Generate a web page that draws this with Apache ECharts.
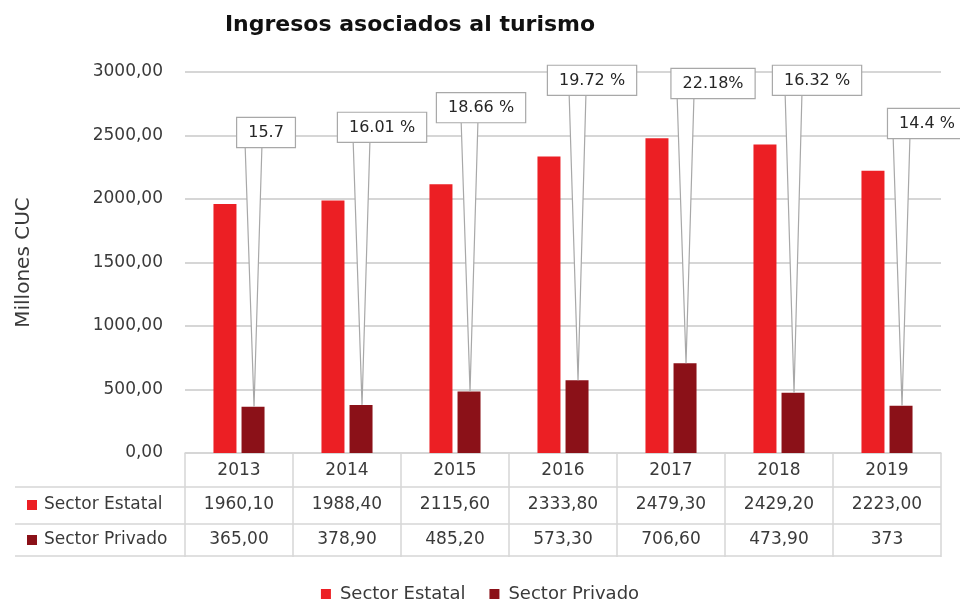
<!DOCTYPE html>
<html>
<head>
<meta charset="utf-8">
<script src="https://cdn.jsdelivr.net/npm/echarts@6/dist/echarts.min.js"></script>
<style>html,body{margin:0;padding:0;background:#fff}#c{width:960px;height:601px}</style>
</head>
<body>
<div id="c"></div>
<script>
// ---- data ----
const years = ['2013', '2014', '2015', '2016', '2017', '2018', '2019'];
const estatal = [1960.10, 1988.40, 2115.60, 2333.80, 2479.30, 2429.20, 2223.00];
const privado = [365.00, 378.90, 485.20, 573.30, 706.60, 473.90, 373];
const estatalText = ['1960,10', '1988,40', '2115,60', '2333,80', '2479,30', '2429,20', '2223,00'];
const privadoText = ['365,00', '378,90', '485,20', '573,30', '706,60', '473,90', '373'];
const pctLabels = ['15.7', '16.01 %', '18.66 %', '19.72 %', '22.18%', '16.32 %', '14.4 %'];
const yTicks = [0, 500, 1000, 1500, 2000, 2500, 3000];

// ---- layout (callout placement) ----
const calloutLevel = [2410, 2450, 2605, 2820, 2795, 2820, 2480];
const calloutDx = [13, 21, 12, 15, 28, 24, 26];

const FONT = 'DejaVu Sans';
const RED = '#ec1f24';
const DARK = '#8b1118';
const TXT = '#3a3a3a';
const LINE = '#d6d6d6';
const GL = 185, GR = 19, GT = 72, GB = 148;

const chart = echarts.init(document.getElementById('c'));

const tableLines = [487, 524, 556].map(y => ({
  type: 'line', shape: { x1: 15, y1: y, x2: 960 - GR, y2: y },
  style: { stroke: LINE, lineWidth: 1.5 }, silent: true
}));

const rowHeaders = [
  { color: RED, text: 'Sector Estatal', y: 505 },
  { color: DARK, text: 'Sector Privado', y: 540 }
];
const headerGraphics = [];
rowHeaders.forEach(r => {
  headerGraphics.push({ type: 'rect', shape: { x: 27, y: r.y - 5, width: 10, height: 10 }, style: { fill: r.color }, silent: true });
  headerGraphics.push({ type: 'text', x: 44, y: r.y, style: { text: r.text, font: '17px "' + FONT + '"', fill: TXT, verticalAlign: 'middle', align: 'left' }, silent: true });
});

const option = {
  animation: false,
  title: {
    text: 'Ingresos asociados al turismo',
    left: 405, top: 9, textAlign: 'center',
    textStyle: { fontFamily: FONT, fontSize: 22, fontWeight: 'bold', color: '#111' }
  },
  legend: {
    top: 580, left: 'center',
    icon: 'rect', itemWidth: 10, itemHeight: 10, itemGap: 24,
    textStyle: { fontFamily: FONT, fontSize: 18, color: TXT, padding: [0, 0, 0, 4] },
    data: ['Sector Estatal', 'Sector Privado']
  },
  grid: { left: GL, right: GR, top: GT, bottom: GB },
  xAxis: [
    {
      type: 'category', data: years, position: 'bottom',
      axisLine: { show: true, lineStyle: { color: LINE, width: 1.5 } },
      axisTick: { show: true, length: 104, alignWithLabel: false, lineStyle: { color: LINE, width: 1.5 } },
      axisLabel: { fontFamily: FONT, fontSize: 17, color: TXT, margin: 9 }
    },
    {
      type: 'category', data: estatalText, position: 'bottom', offset: 34,
      axisLine: { show: false }, axisTick: { show: false },
      axisLabel: { fontFamily: FONT, fontSize: 17, color: TXT, margin: 9 }
    },
    {
      type: 'category', data: privadoText, position: 'bottom', offset: 69,
      axisLine: { show: false }, axisTick: { show: false },
      axisLabel: { fontFamily: FONT, fontSize: 17, color: TXT, margin: 9 }
    }
  ],
  yAxis: {
    type: 'value', min: yTicks[0], max: yTicks[yTicks.length - 1], interval: 500,
    name: 'Millones CUC', nameLocation: 'middle', nameGap: 151, nameRotate: 90,
    nameTextStyle: { fontFamily: FONT, fontSize: 20, color: TXT },
    axisLine: { show: false }, axisTick: { show: false },
    axisLabel: {
      fontFamily: FONT, fontSize: 17, color: TXT, margin: 22,
      formatter: v => v.toFixed(2).replace('.', ',')
    },
    splitLine: { lineStyle: { color: LINE, width: 2 } }
  },
  series: [
    {
      name: 'Sector Estatal', type: 'bar', data: estatal, xAxisIndex: 0,
      barWidth: '21.3%', barGap: '22%',
      itemStyle: { color: RED }
    },
    {
      name: 'Sector Privado', type: 'bar', data: privado, xAxisIndex: 0,
      barWidth: '21.3%', barGap: '22%',
      itemStyle: { color: DARK }
    },
    {
      name: 'callouts', type: 'custom', xAxisIndex: 0, z: 10, clip: false,
      data: privado.map((v, i) => [i, v]),
      encode: { x: 0, y: 1 },
      renderItem: function (params, api) {
        const i = api.value(0);
        const v = api.value(1);
        const top = api.coord([i, v]);
        const band = api.size([1, 0])[0];
        const barW = band * 0.213;
        const gap = barW * 0.22;
        const bx = top[0] + (barW + gap) / 2;
        const by = top[1];
        const boxBottom = api.coord([i, calloutLevel[i]])[1];
        const cx = bx + calloutDx[i];
        return {
          type: 'group',
          children: [
            {
              type: 'polygon',
              shape: { points: [[bx - 8, boxBottom - 4], [bx + 9, boxBottom - 4], [bx + 1, by]] },
              style: { fill: '#fff', stroke: '#a8a8a8', lineWidth: 1.2 }
            },
            {
              type: 'text', x: cx, y: boxBottom,
              style: {
                text: pctLabels[i], fontFamily: FONT, fontSize: 16, fill: '#262626',
                align: 'center', verticalAlign: 'bottom',
                backgroundColor: '#fff', borderColor: '#a8a8a8', borderWidth: 1.2,
                padding: [7, 11, 6, 11]
              }
            }
          ]
        };
      }
    }
  ],
  graphic: tableLines.concat(headerGraphics)
};

chart.setOption(option);
</script>
</body>
</html>
